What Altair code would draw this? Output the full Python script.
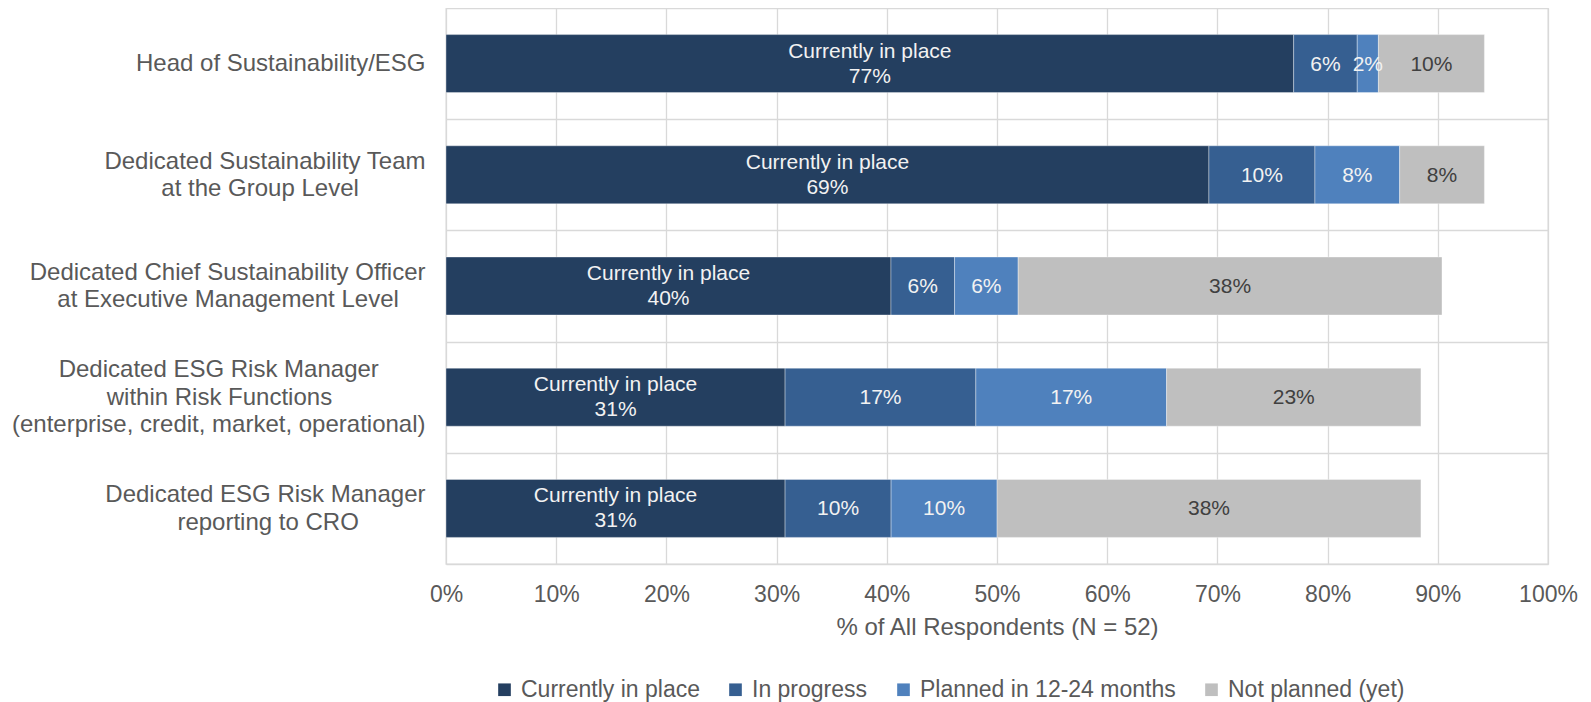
import altair as alt
import pandas as pd

CATEGORIES = [
    "Head of Sustainability/ESG",
    "Dedicated Sustainability Team\nat the Group Level",
    "Dedicated Chief Sustainability Officer\nat Executive Management Level",
    "Dedicated ESG Risk Manager\nwithin Risk Functions\n(enterprise, credit, market, operational)",
    "Dedicated ESG Risk Manager\nreporting to CRO",
]
STATUSES = ["Currently in place", "In progress", "Planned in 12-24 months", "Not planned (yet)"]
CURRENT = [76.92, 69.23, 40.38, 30.77, 30.77]
IN_PROGRESS = [5.77, 9.62, 5.77, 17.31, 9.62]
PLANNED = [1.92, 7.69, 5.77, 17.31, 9.62]
NOT_PLANNED = [9.62, 7.69, 38.46, 23.08, 38.46]
X_TICKS = list(range(0, 101, 10))
COLORS = ["#243F60", "#365F91", "#4F81BD", "#BFBFBF"]
X_TITLE = "% of All Respondents (N = 52)"

# non-breaking-space padding per label line (centres shorter lines in the right-aligned block);
# a zero-width space closes each padded line so the padding is not trimmed away
LINE_PADS = [[0], [0, 10], [0, 4], [7, 14, 0], [0, 10]]

display_labels = []
for cat, pads in zip(CATEGORIES, LINE_PADS):
    lines = cat.split("\n")
    display_labels.append(
        "\n".join(l + ("\u00a0" * p + "\u200b" if p else "") for l, p in zip(lines, pads))
    )

series = [CURRENT, IN_PROGRESS, PLANNED, NOT_PLANNED]
rows = []
for i, lab in enumerate(display_labels):
    for j, st in enumerate(STATUSES):
        v = series[j][i]
        pct = f"{round(v)}%"
        text = f"{st}\n{pct}" if j == 0 else pct
        rows.append({"display": lab, "status": st, "order": j, "value": v, "label": text})
df = pd.DataFrame(rows)

FONT = "Liberation Sans"
GREY_TEXT = "#595959"
Y_LINE_H = 27.5

n_lines = "length(split(datum.value, '\\n'))"

y_enc = alt.Y(
    "display:N",
    sort=display_labels,
    scale=alt.Scale(paddingInner=0, paddingOuter=0),
    axis=alt.Axis(
        title=None,
        labelExpr="split(datum.label, '\\n')",
        labelAlign="right",
        labelBaseline="middle",
        labelFontSize=24,
        labelLineHeight=Y_LINE_H,
        labelPadding=21,
        labelColor=GREY_TEXT,
        labelLimit=0,
        labelOffset={
            "condition": [
                {"test": f"{n_lines} == 3", "value": -Y_LINE_H},
                {"test": f"{n_lines} == 2", "value": -Y_LINE_H / 2},
            ],
            "value": 0,
        },
        ticks=False,
        domain=False,
        grid=True,
        tickBand="extent",
        gridColor="#D9D9D9",
        gridWidth=1.3,
    ),
)

x_axis = alt.Axis(
    values=X_TICKS,
    labelExpr="datum.value + '%'",
    labelFontSize=23,
    labelColor=GREY_TEXT,
    labelPadding=30,
    labelBaseline="middle",
    labelFlush=False,
    labelOverlap=False,
    ticks=False,
    tickSize=0,
    domain=False,
    grid=True,
    gridColor="#D9D9D9",
    gridWidth=1.3,
    title=X_TITLE,
    titleFontSize=24,
    titleColor=GREY_TEXT,
    titleFontWeight="normal",
    titleY=63,
    titleBaseline="middle",
)

base = alt.Chart(df)

bars = base.mark_bar(size=58, stroke="white", strokeWidth=0.6, strokeOpacity=0.6).encode(
    x=alt.X("value:Q", stack="zero", scale=alt.Scale(domain=[0, 100], nice=False), axis=x_axis),
    y=y_enc,
    color=alt.Color(
        "status:N",
        scale=alt.Scale(domain=STATUSES, range=COLORS),
        legend=alt.Legend(
            title=None,
            orient="none",
            legendX=47,
            legendY=670,
            direction="horizontal",
            columns=4,
            symbolType="square",
            symbolSize=160,
            symbolStrokeWidth=0,
            labelFontSize=23,
            labelColor=GREY_TEXT,
            labelOffset=5,
            columnPadding=24,
            labelLimit=0,
            padding=0,
        ),
    ),
    order=alt.Order("order:Q"),
)

positioned = base.transform_window(
    cum="sum(value)",
    groupby=["display"],
    sort=[alt.SortField("order")],
    frame=[None, 0],
).transform_calculate(mid="datum.cum - datum.value / 2")

text_enc = dict(
    x=alt.X("mid:Q"),
    y=alt.Y("display:N", sort=display_labels),
    text="label:N",
    color=alt.condition(
        alt.datum.status == "Not planned (yet)",
        alt.value("#404040"),
        alt.value("#F2F2F2"),
    ),
)

labels_two_line = (
    positioned.transform_filter(alt.datum.order == 0)
    .mark_text(lineBreak="\n", fontSize=21, lineHeight=25, baseline="middle", align="center", dy=-12)
    .encode(**text_enc)
)
labels_one_line = (
    positioned.transform_filter(alt.datum.order > 0)
    .mark_text(fontSize=21, baseline="middle", align="center", dy=1)
    .encode(**text_enc)
)

chart = (
    alt.layer(bars, labels_two_line, labels_one_line)
    .properties(
        width=1102,
        height=556,
        autosize=alt.AutoSizeParams(type="none"),
        padding={"left": 438, "top": 0, "right": 35, "bottom": 140},
    )
    .configure(font=FONT)
    .configure_view(stroke="#D9D9D9", strokeWidth=1.3)
)

chart.save("out.html", embed_options={"renderer": "svg", "actions": False})
